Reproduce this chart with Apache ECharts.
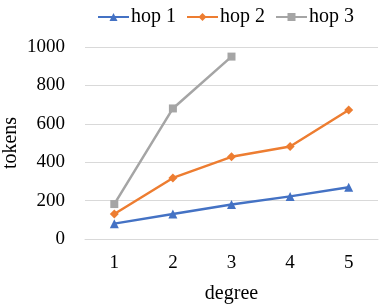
<!DOCTYPE html>
<html><head><meta charset="utf-8">
<script src="https://cdn.jsdelivr.net/npm/echarts@6/dist/echarts.min.js"></script>
<style>html,body{margin:0;padding:0;background:#fff}#c{width:383px;height:305px}</style>
</head><body><div id="c"></div>
<script>
const categories = ['1','2','3','4','5'];
const hop1 = [80, 130, 180, 222, 270];
const hop2 = [130, 318, 428, 482, 672];
const hop3 = [182, 680, 950, null, null];
const seriesNames = ['hop 1','hop 2','hop 3'];
const yTicks = {min: 0, max: 1000, interval: 200};

const font = '"Liberation Serif", "Times New Roman", Times, serif';
const chart = echarts.init(document.getElementById('c'));
chart.setOption({
  animation: false,
  textStyle: {fontFamily: font},
  legend: {
    top: 2, left: 92, itemGap: 10, itemWidth: 31, itemHeight: 10,
    textStyle: {fontFamily: font, fontSize: 20, color: '#000', padding: [0, 0, 0, -3]},
    data: seriesNames
  },
  grid: {left: 85, right: 5, top: 47, bottom: 66, containLabel: false, outerBoundsMode: 'none'},
  xAxis: {
    type: 'category', data: categories, boundaryGap: true,
    name: 'degree', nameLocation: 'middle', nameGap: 45, nameMoveOverlap: false,
    nameTextStyle: {fontFamily: font, fontSize: 20, color: '#000'},
    axisLine: {show: true, lineStyle: {color: '#d9d9d9', width: 1}},
    axisTick: {show: false},
    axisLabel: {fontFamily: font, fontSize: 19, color: '#000', margin: 15}
  },
  yAxis: {
    type: 'value', min: yTicks.min, max: yTicks.max, interval: yTicks.interval,
    name: 'tokens', nameLocation: 'middle', nameGap: 64, nameRotate: 90, nameMoveOverlap: false,
    nameTextStyle: {fontFamily: font, fontSize: 20, color: '#000'},
    axisLine: {show: false}, axisTick: {show: false},
    axisLabel: {fontFamily: font, fontSize: 19, color: '#000', margin: 20,
                formatter: v => String(v)},
    splitLine: {lineStyle: {color: '#d9d9d9', width: 1}}
  },
  series: [
    {name: seriesNames[0], type: 'line', data: hop1, symbol: 'triangle', symbolSize: 9,
     color: '#4472C4', lineStyle: {width: 2.5, color: '#4472C4'}, itemStyle: {color: '#4472C4'}},
    {name: seriesNames[1], type: 'line', data: hop2, symbol: 'diamond', symbolSize: 9,
     color: '#ED7D31', lineStyle: {width: 2.5, color: '#ED7D31'}, itemStyle: {color: '#ED7D31'}},
    {name: seriesNames[2], type: 'line', data: hop3, symbol: 'rect', symbolSize: 8,
     color: '#A5A5A5', lineStyle: {width: 2.5, color: '#A5A5A5'}, itemStyle: {color: '#A5A5A5'}}
  ]
});
</script></body></html>
